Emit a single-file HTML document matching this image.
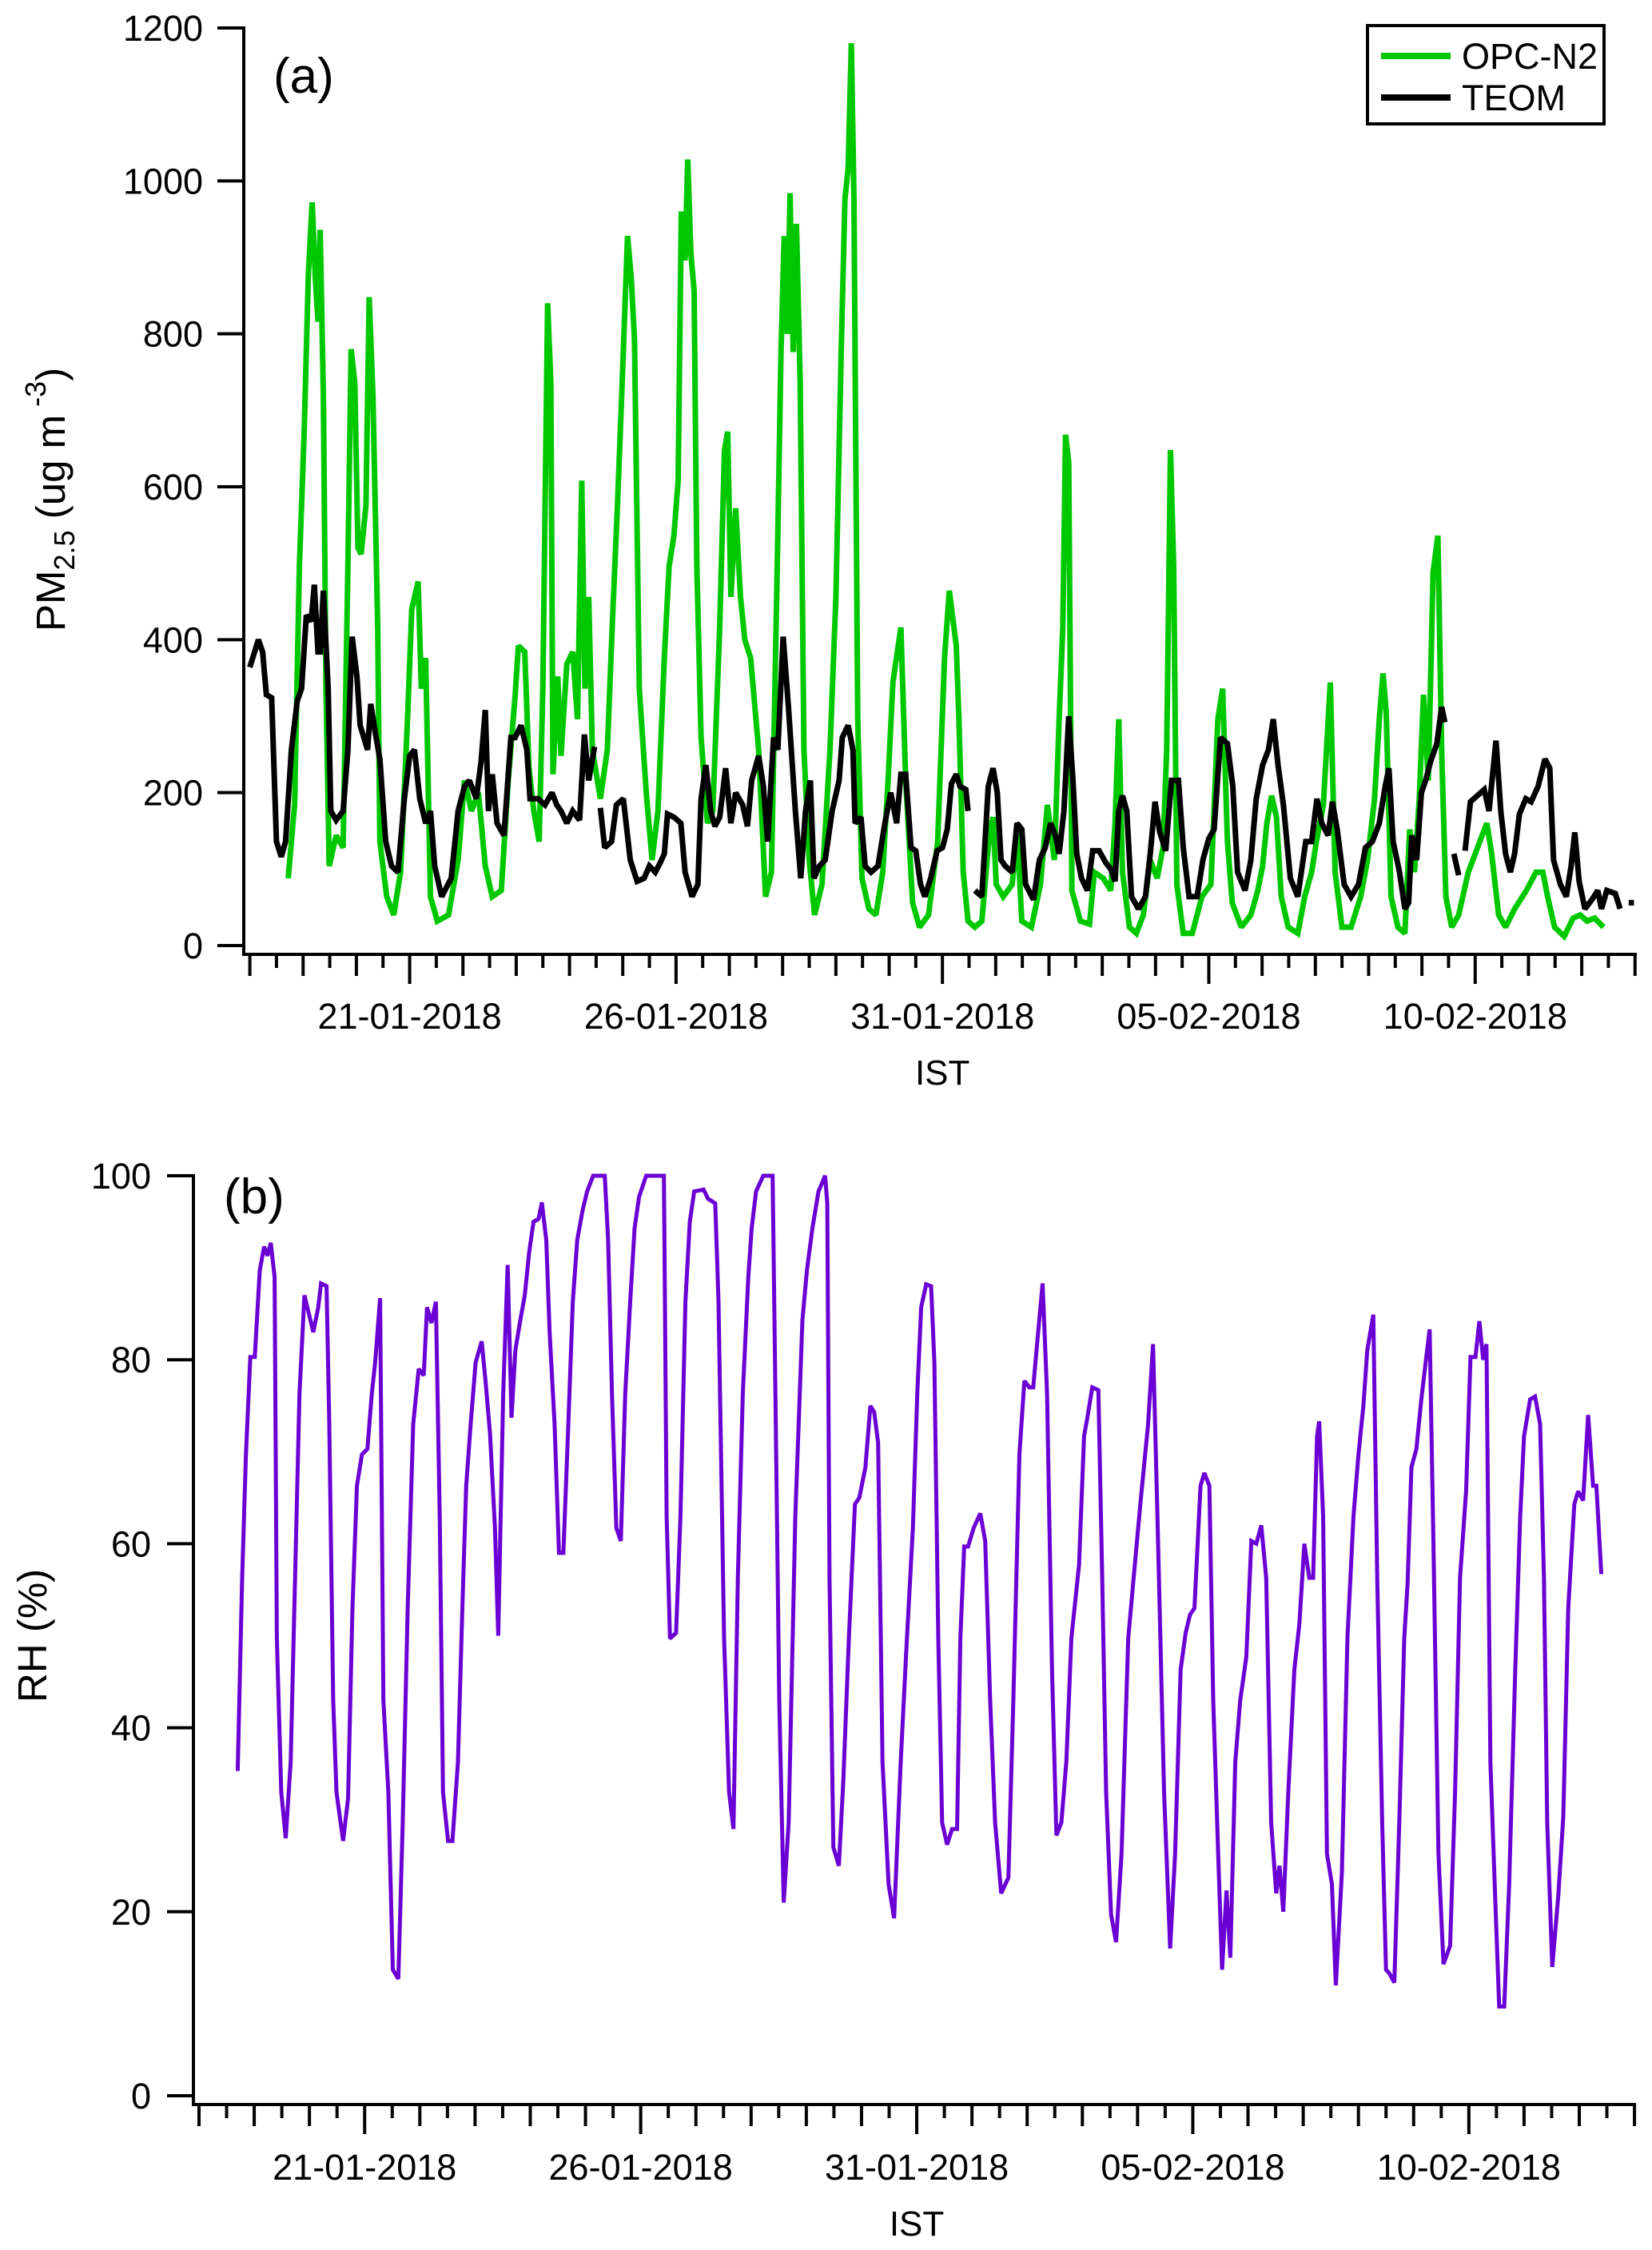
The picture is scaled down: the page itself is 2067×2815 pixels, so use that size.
<!DOCTYPE html>
<html>
<head>
<meta charset="utf-8">
<style>
  html, body { margin: 0; padding: 0; background: #fff; }
  svg { display: block; }
  text { font-family: "Liberation Sans", "DejaVu Sans", sans-serif; fill: #000; }
</style>
</head>
<body>
<svg id="chart" width="2067" height="2815" viewBox="0 0 2067 2815" xmlns="http://www.w3.org/2000/svg">
  <rect x="0" y="0" width="2067" height="2815" fill="#fff"/>
  <g id="panelA"></g>
  <g id="panelB"></g>
</svg>
<script>
// ---- Data: time in days since 18-01-2018 00:00 IST ----
const dateLabels = ["21-01-2018", "26-01-2018", "31-01-2018", "05-02-2018", "10-02-2018"];
const dateLabelDays = [3, 8, 13, 18, 23];
const pmTicks = [0, 200, 400, 600, 800, 1000, 1200];
const rhTicks = [0, 20, 40, 60, 80, 100];

const opcT = [0.72,0.84,0.93,1.02,1.10,1.17,1.23,1.28,1.32,1.38,1.43,1.49,1.62,1.75,1.84,1.90,1.97,2.03,2.09,2.18,2.24,2.31,2.40,2.44,2.57,2.70,2.83,2.96,3.04,3.16,3.22,3.30,3.39,3.52,3.73,3.91,4.03,4.16,4.29,4.42,4.55,4.72,4.85,4.98,5.04,5.16,5.24,5.33,5.43,5.50,5.59,5.65,5.69,5.78,5.84,5.95,6.06,6.15,6.23,6.29,6.36,6.43,6.58,6.71,6.81,6.90,6.98,7.09,7.16,7.22,7.31,7.44,7.55,7.66,7.78,7.87,7.96,8.04,8.10,8.17,8.22,8.28,8.34,8.39,8.47,8.59,8.69,8.82,8.91,8.97,9.03,9.12,9.21,9.29,9.40,9.55,9.68,9.79,9.90,9.97,10.03,10.09,10.14,10.20,10.26,10.33,10.40,10.50,10.60,10.74,10.89,11.00,11.10,11.17,11.23,11.29,11.34,11.41,11.49,11.62,11.75,11.88,11.98,12.07,12.22,12.31,12.44,12.57,12.74,12.91,13.04,13.13,13.26,13.31,13.39,13.48,13.61,13.74,13.88,13.95,14.01,14.14,14.31,14.40,14.49,14.67,14.84,14.97,15.10,15.19,15.26,15.31,15.37,15.43,15.59,15.76,15.85,16.02,16.16,16.24,16.31,16.38,16.51,16.64,16.77,16.90,17.03,17.14,17.21,17.28,17.34,17.40,17.52,17.69,17.87,18.04,18.17,18.26,18.35,18.44,18.61,18.79,18.92,19.01,19.09,19.18,19.27,19.36,19.49,19.67,19.80,19.93,20.02,20.15,20.28,20.37,20.50,20.67,20.85,20.98,21.11,21.20,21.27,21.33,21.42,21.55,21.68,21.77,21.86,21.95,22.03,22.12,22.21,22.30,22.37,22.45,22.56,22.69,22.87,23.00,23.13,23.22,23.31,23.44,23.57,23.74,23.96,24.14,24.27,24.36,24.49,24.67,24.84,24.97,25.10,25.24,25.41];
const opcV = [88,184,496,672,880,972,872,816,936,720,336,104,144,128,496,780,736,520,512,576,848,720,416,136,64,40,96,296,440,476,336,376,64,32,40,112,216,176,200,104,64,72,216,328,392,384,232,176,136,336,840,736,224,352,248,368,384,296,608,336,456,256,192,256,432,576,720,928,872,792,336,200,112,176,376,496,536,608,960,896,1028,904,856,496,272,160,176,416,648,672,456,572,456,400,376,256,64,96,496,776,928,800,984,776,944,736,256,112,40,80,256,456,776,976,1016,1180,976,296,88,48,40,96,216,344,416,216,56,24,40,136,376,464,392,296,96,32,24,32,144,168,80,64,80,152,32,24,80,184,112,296,416,668,632,72,32,28,96,88,72,160,296,96,24,16,40,112,88,128,256,648,496,80,16,16,64,80,296,336,136,56,24,40,72,104,160,196,168,64,24,16,64,96,136,184,344,96,24,24,64,112,192,296,356,304,64,24,16,152,96,192,328,216,488,536,256,64,24,40,96,120,144,160,120,40,24,48,72,96,96,64,24,12,36,40,32,36,24];

const teomT = [0.00,0.16,0.24,0.31,0.41,0.50,0.59,0.67,0.78,0.89,0.97,1.06,1.15,1.21,1.28,1.32,1.38,1.47,1.52,1.62,1.75,1.84,1.92,2.01,2.07,2.21,2.27,2.35,2.44,2.55,2.66,2.78,2.90,3.00,3.09,3.19,3.30,3.39,3.47,3.60,3.78,3.91,4.03,4.12,4.25,4.34,4.42,4.48,4.55,4.64,4.77,4.90,4.98,5.09,5.20,5.26,5.41,5.54,5.67,5.76,5.84,5.95,6.06,6.19,6.28,6.36,6.47,6.52,6.58,6.66,6.79,6.88,7.01,7.14,7.27,7.40,7.50,7.61,7.70,7.78,7.84,7.96,8.09,8.17,8.30,8.41,8.47,8.56,8.65,8.73,8.82,8.93,9.03,9.12,9.25,9.34,9.42,9.55,9.64,9.72,9.83,9.91,10.01,10.11,10.24,10.34,10.43,10.52,10.59,10.69,10.80,10.93,11.06,11.12,11.23,11.32,11.36,11.47,11.55,11.66,11.79,11.92,12.03,12.14,12.22,12.31,12.41,12.50,12.59,12.67,12.78,12.90,13.00,13.09,13.17,13.26,13.33,13.44,13.48,13.55,13.61,13.74,13.86,13.95,14.03,14.10,14.18,14.31,14.40,14.49,14.56,14.71,14.82,14.93,15.03,15.12,15.19,15.28,15.37,15.45,15.52,15.61,15.72,15.82,15.94,16.07,16.16,16.24,16.31,16.38,16.46,16.55,16.68,16.81,16.90,16.99,17.08,17.19,17.30,17.43,17.52,17.63,17.78,17.89,18.00,18.10,18.22,18.35,18.45,18.54,18.68,18.79,18.89,19.01,19.12,19.21,19.30,19.40,19.53,19.67,19.82,19.93,20.03,20.12,20.24,20.32,20.41,20.54,20.67,20.81,20.94,21.07,21.20,21.31,21.38,21.46,21.58,21.68,21.75,21.81,21.90,21.99,22.07,22.16,22.28,22.37,22.43,22.52,22.60,22.69,22.75,22.81,22.91,23.04,23.17,23.26,23.39,23.48,23.57,23.66,23.74,23.83,23.95,24.05,24.18,24.31,24.40,24.47,24.60,24.71,24.80,24.87,24.95,25.06,25.19,25.30,25.37,25.47,25.63,25.72,25.80,25.88,25.98];
const teomV = [364,400,384,328,324,136,116,136,256,320,336,432,424,472,384,384,464,336,176,164,176,256,404,352,288,256,316,280,244,136,104,96,192,248,256,192,160,176,104,64,88,176,208,216,192,240,308,176,224,160,144,272,272,288,256,192,192,184,200,184,176,160,176,164,276,216,260,null,180,128,136,184,192,112,84,88,104,96,108,120,172,168,160,96,64,80,192,236,176,156,168,232,160,200,184,156,216,248,208,136,272,256,404,312,176,88,176,216,88,104,112,176,216,272,288,256,160,168,104,96,104,160,200,160,224,224,128,124,80,64,88,124,128,152,212,224,208,204,176,null,72,64,208,232,200,112,104,96,160,152,80,60,112,128,160,144,120,176,300,216,120,88,72,124,124,108,100,84,176,196,176,64,48,64,120,188,148,124,216,216,128,64,64,112,140,152,272,264,208,96,72,112,192,236,256,296,236,184,88,64,136,136,192,160,144,188,152,80,64,80,128,136,160,208,232,136,96,48,56,144,112,200,216,240,264,312,292,null,120,92,null,124,188,196,204,176,268,176,120,96,120,172,192,188,208,244,232,112,80,64,104,148,84,48,60,72,48,72,68,48,null,56,56];

const rhT = [0.70,0.78,0.85,0.93,1.01,1.10,1.18,1.24,1.30,1.37,1.41,1.49,1.57,1.66,1.74,1.82,1.91,1.99,2.07,2.16,2.21,2.31,2.36,2.43,2.49,2.61,2.70,2.78,2.86,2.95,3.05,3.13,3.19,3.28,3.34,3.43,3.51,3.61,3.69,3.78,3.88,3.98,4.07,4.13,4.21,4.29,4.36,4.42,4.51,4.59,4.69,4.77,4.84,4.92,5.01,5.12,5.19,5.27,5.36,5.42,5.51,5.59,5.66,5.73,5.81,5.90,5.98,6.06,6.15,6.21,6.29,6.35,6.44,6.52,6.60,6.69,6.77,6.85,6.95,7.03,7.14,7.35,7.41,7.48,7.56,7.64,7.72,7.81,7.89,7.97,8.10,8.42,8.47,8.53,8.64,8.72,8.81,8.89,8.97,9.14,9.22,9.35,9.41,9.51,9.60,9.68,9.76,9.85,9.95,10.01,10.09,10.22,10.39,10.44,10.51,10.59,10.68,10.80,10.93,11.01,11.11,11.22,11.34,11.38,11.42,11.49,11.59,11.67,11.77,11.88,11.96,12.07,12.16,12.23,12.30,12.38,12.49,12.59,12.71,12.81,12.93,13.01,13.08,13.17,13.26,13.32,13.39,13.46,13.55,13.64,13.73,13.79,13.86,13.93,14.03,14.15,14.24,14.33,14.42,14.53,14.66,14.75,14.86,14.95,15.04,15.11,15.18,15.28,15.36,15.45,15.53,15.62,15.71,15.80,15.94,16.03,16.09,16.18,16.29,16.36,16.43,16.52,16.61,16.71,16.83,16.95,17.05,17.19,17.28,17.36,17.48,17.59,17.68,17.78,17.87,17.95,18.03,18.14,18.21,18.30,18.37,18.46,18.53,18.61,18.68,18.77,18.86,18.97,19.06,19.15,19.24,19.33,19.42,19.51,19.57,19.64,19.73,19.84,19.93,20.02,20.11,20.18,20.25,20.29,20.36,20.43,20.52,20.59,20.70,20.80,20.91,21.00,21.09,21.16,21.27,21.34,21.43,21.50,21.56,21.65,21.74,21.83,21.89,21.96,22.05,22.14,22.23,22.29,22.36,22.45,22.54,22.66,22.75,22.84,22.95,23.03,23.12,23.19,23.26,23.32,23.39,23.48,23.55,23.64,23.73,23.84,23.93,24.00,24.11,24.20,24.29,24.36,24.42,24.51,24.62,24.71,24.80,24.91,24.98,25.07,25.16,25.25,25.31,25.40];
const rhV = [35.3,56,69.7,80.3,80.3,89.7,92.3,91.3,92.7,89,49.7,33,28,36.3,56.3,76.3,87,85,83,85.7,88.3,88,73,43,33,27.7,32.3,53,66.3,69.7,70.3,76.3,79.7,86.7,43,33,13.7,12.7,29.7,53,73,79,78.3,85.7,84,86.3,63,33,27.7,27.7,36.3,53,66.3,73,79.7,82,77.7,72,61.7,50,76.3,90.3,73.7,81,84,87,91.7,95,95.3,97.1,93,83,73,59,59,73,86.3,93,96.3,98.3,100,100,93,76.3,61.7,60.3,76.3,86.3,94.3,97.7,100,100,63,49.7,50.3,63,86.3,95,98.3,98.5,97.5,97,86.3,49.7,33,29,56.3,76.3,89,94.3,98.3,100,100,76.3,43,21,29.7,63,84.3,89.7,94.3,98.3,100,97,56.3,27,25,34.3,49.7,64.3,65,68.3,75,74.3,71,36.3,23,19.3,36.3,48.3,61.7,76.3,85.7,88.2,88,79.7,49.7,29.7,27.3,29,29,49.7,59.7,59.7,61.7,63.3,60.3,43,29.7,22,23.7,43,69.7,77.7,77,77,81.7,88.3,76.3,46.3,28.3,29.7,36.3,49.7,57.7,71.7,73.7,77,76.7,56.3,33,19.7,16.7,26.3,49.7,57.7,64.3,73,81.7,63,33,16,26.3,46.3,50.3,52.3,53,66.3,67.7,66.3,43,26.3,13.7,22.3,15,36.3,43,47.7,60.3,60,62,56.3,29.7,22,25,20,33,46.3,51.3,60,56.3,56.3,71.7,73.3,63,26.3,23,12,24.3,49.7,63,69.7,75,81,84.9,56.3,29.7,13.7,13.3,12.3,29.7,49.7,55.7,68.3,70.3,75.7,80.3,83.3,59.7,26.3,14.3,16.3,33,56.3,65.7,80.3,80.3,84.2,80,81.7,36.3,21,9.7,9.7,23,46.3,63,71.7,75.7,76,73,56.3,29.7,14,21.7,30.3,53,64.3,65.7,64.7,74,66.3,66.3,56.7];

const NS = "http://www.w3.org/2000/svg";
function mk(parent, tag, attrs, txt) {
  const el = document.createElementNS(NS, tag);
  for (const k in attrs) el.setAttribute(k, attrs[k]);
  if (txt !== undefined) el.textContent = txt;
  parent.appendChild(el);
  return el;
}

const A = { g: document.getElementById('panelA'), axX: 305, x0: 312.6, day: 66.66, yTop: 35, yZero: 1183, vMax: 1200, xAxisY: 1194, xEnd: 2046 };
const B = { g: document.getElementById('panelB'), axX: 242, x0: 249, day: 69.08, yTop: 1471, yZero: 2622, vMax: 100, xAxisY: 2633, xEnd: 2045 };
function xs(P, t) { return P.x0 + t * P.day; }
function ys(P, v) { return P.yZero - (v / P.vMax) * (P.yZero - P.yTop); }

function drawAxes(P, ticks, labelRight, labelBase, istBase) {
  const ax = mk(P.g, 'g', {});
  
  
  const yl = mk(ax, 'line', { x1: P.axX, y1: P.yTop - 2, x2: P.axX, y2: P.xAxisY + 2, stroke: '#000', 'stroke-width': 4 });
  
  
  const xl = mk(ax, 'line', { x1: P.axX - 2, y1: P.xAxisY, x2: P.xEnd + 2, y2: P.xAxisY, stroke: '#000', 'stroke-width': 4 });
  
  
  ticks.forEach(v => {
    const y = ys(P, v);
    const tk = mk(ax, 'line', { x1: P.axX - 33, y1: y, x2: P.axX, y2: y, stroke: '#000', 'stroke-width': 4 });
    
    
    const lb = mk(ax, 'text', { x: labelRight, y: y + 16, 'font-size': 45, 'text-anchor': 'end' }, String(v));
    
    
  });
  for (let i = 0; i <= 52; i++) {
    const t = i / 2;
    const x = xs(P, t);
    const major = dateLabelDays.indexOf(t) >= 0;
    const len = major ? 37 : (i % 2 === 0 ? 27 : 17);
    const tk = mk(ax, 'line', { x1: x, y1: P.xAxisY, x2: x, y2: P.xAxisY + len, stroke: '#000', 'stroke-width': 4 });
    
    
  }
  dateLabels.forEach((s, i) => {
    const lb = mk(ax, 'text', { x: xs(P, dateLabelDays[i]), y: labelBase, 'font-size': 45, 'text-anchor': 'middle' }, s);
    
    
  });
  const ist = mk(ax, 'text', { x: xs(P, 13), y: istBase, 'font-size': 44, 'text-anchor': 'middle' }, 'IST');
  
  
}

function drawSeries(P, T, V, color, width, name) {
  let d = '', pen = false;
  for (let i = 0; i < T.length; i++) {
    if (V[i] === null) { pen = false; continue; }
    d += (pen ? 'L' : 'M') + xs(P, T[i]).toFixed(1) + ' ' + ys(P, V[i]).toFixed(1) + ' ';
    pen = true;
  }
  const p = mk(P.g, 'path', { d: d, fill: 'none', stroke: color, 'stroke-width': width, 'stroke-linejoin': 'miter', 'stroke-miterlimit': 2 });
  
  
}

// Panel A
drawAxes(A, pmTicks, 254, 1287, 1357);
drawSeries(A, opcT, opcV, '#00c800', 7, 'opc-n2-line');
drawSeries(A, teomT, teomV, '#000000', 7, 'teom-line');
const la = mk(A.g, 'text', { x: 342, y: 116, 'font-size': 62 }, '(a)');


const yta = mk(A.g, 'text', { x: 0, y: 0, 'font-size': 51, transform: 'translate(81,790) rotate(-90)' });


mk(yta, 'tspan', {}, 'PM');
mk(yta, 'tspan', { dy: 12, 'font-size': 36 }, '2.5');
mk(yta, 'tspan', { dy: -12 }, ' (ug m');
mk(yta, 'tspan', { dy: -24, 'font-size': 36 }, ' -3');
mk(yta, 'tspan', { dy: 24 }, ')');

// Legend
const lg = mk(A.g, 'g', {});


const lbx = mk(lg, 'rect', { x: 1711, y: 32, width: 296, height: 123, fill: '#fff', stroke: '#000', 'stroke-width': 4 });


const l1 = mk(lg, 'line', { x1: 1728, y1: 70, x2: 1815, y2: 70, stroke: '#00c800', 'stroke-width': 8 });


const t1 = mk(lg, 'text', { x: 1829, y: 86, 'font-size': 45 }, 'OPC-N2');


const l2 = mk(lg, 'line', { x1: 1728, y1: 122, x2: 1815, y2: 122, stroke: '#000', 'stroke-width': 8 });


const t2 = mk(lg, 'text', { x: 1829, y: 138, 'font-size': 45 }, 'TEOM');



// Panel B
drawAxes(B, rhTicks, 189, 2727, 2797);
drawSeries(B, rhT, rhV, '#6a00d4', 5, 'rh-line');
const lb2 = mk(B.g, 'text', { x: 280, y: 1518, 'font-size': 62 }, '(b)');


const ytb = mk(B.g, 'text', { x: 0, y: 0, 'font-size': 51, transform: 'translate(58,2130) rotate(-90)' }, 'RH (%)');


</script>
</body>
</html>
